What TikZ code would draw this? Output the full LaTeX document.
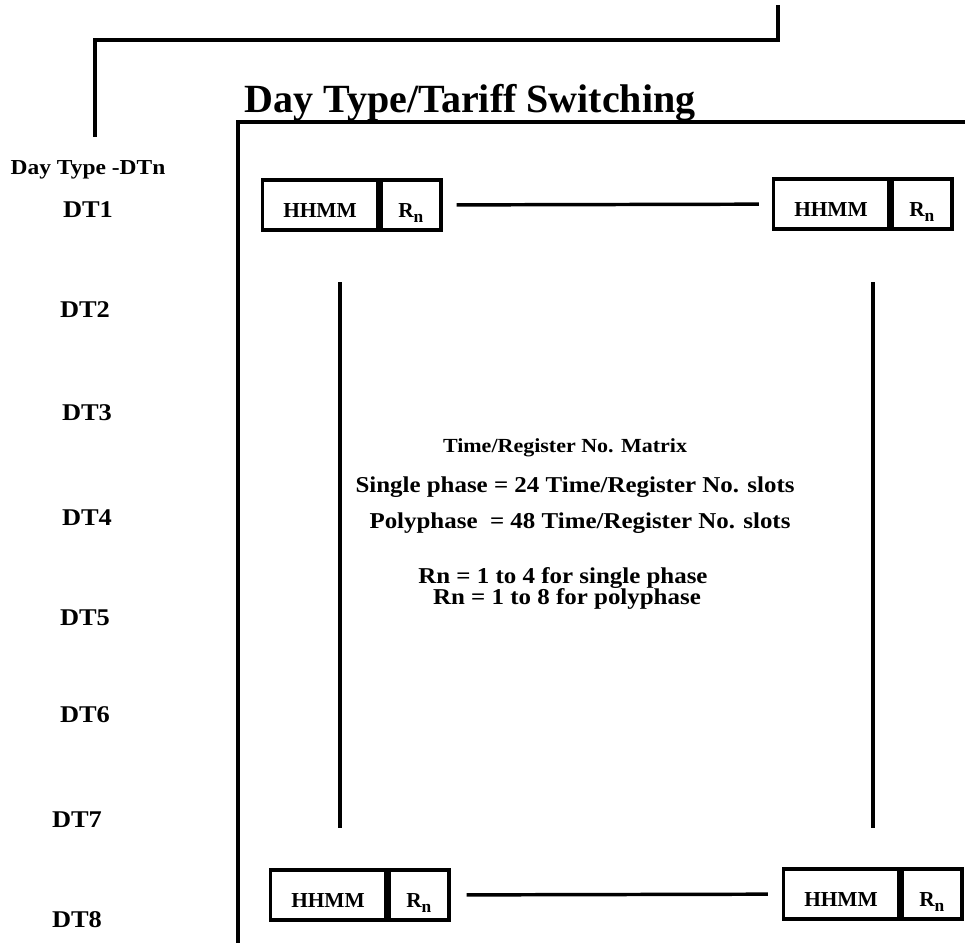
\documentclass[tikz,border=0pt]{standalone}
\usepackage{fontspec}
\setmainfont{Liberation Serif}
\newfontfamily\wideserif{Liberation Serif}[FakeStretch=1.1]
\usepackage{tikz}
\usetikzlibrary{positioning}

\newcommand{\Rn}{R\raisebox{-0.45ex}{\fontsize{13}{13}\selectfont n}}

\tikzset{
  wire/.style={line width=2.6pt},
  lbl/.style={font=\wideserif\fontsize{17}{19}\selectfont\bfseries, inner sep=0pt},
  daylbl/.style={font=\wideserif\fontsize{18}{20}\selectfont\bfseries, inner sep=0pt},
  title/.style={font=\fontsize{30}{34}\selectfont\bfseries, inner sep=0pt, anchor=base},
  hhmm/.style={draw, line width=2.6pt, minimum width=86pt, minimum height=37.5pt,
    inner sep=0pt, text height=19pt, text depth=0pt,
    font=\fontsize{16}{18}\selectfont\bfseries},
  reg/.style={hhmm, minimum width=45pt}
}

\begin{document}
\begin{tikzpicture}[x=0.75pt,y=-0.75pt]
  \useasboundingbox (0,0) rectangle (965,943);

  % Title and outer frame
  \node[title] (title) at (470,112) {Day Type/Tariff Switching};
  \draw[wire] (965,122) -- (238,122) -- (238,943);

  % Feed from above
  \coordinate (feed) at (778,5);
  \coordinate (drop) at (95,137);
  \draw[wire] (feed) -- ++(0,35) -| (drop);

  % Day types
  \node[lbl, font=\wideserif\fontsize{16}{18}\selectfont\bfseries] (dtn) at (88,170) {Day Type -DTn};
  \foreach \i/\x/\y in {1/88/210, 2/85/310, 3/87/413, 4/87/518,
                        5/85/618, 6/85/715, 7/77/820, 8/77/920}
    \node[daylbl] (dt\i) at (\x,\y) {DT\i};

  % Top slots
  \node[hhmm] (tlh) at (320,205) {HHMM};
  \node[reg, right=0pt of tlh] (tlr) {\Rn};
  \node[hhmm] (trh) at (831,204) {HHMM};
  \node[reg, right=0pt of trh] (trr) {\Rn};
  \draw[wire, shorten <=10.5pt, shorten >=9.75pt] (tlr) -- (trh);

  % Bottom slots
  \node[hhmm] (blh) at (328,895) {HHMM};
  \node[reg, right=0pt of blh] (blr) {\Rn};
  \node[hhmm] (brh) at (841,894) {HHMM};
  \node[reg, right=0pt of brh] (brr) {\Rn};
  \draw[wire, shorten <=12pt, shorten >=10.5pt] (blr) -- (brh);

  % Side links
  \coordinate (lt) at (340,282);
  \coordinate (lb) at (340,828);
  \coordinate (rt) at (873,282);
  \coordinate (rb) at (873,828);
  \draw[wire] (lt) -- (lb);
  \draw[wire] (rt) -- (rb);

  % Matrix notes
  \node[lbl, font=\wideserif\fontsize{15}{17}\selectfont\bfseries] (mtx) at (565,448) {Time/Register No. Matrix};
  \node[lbl] (sgl) at (575,487) {Single phase = 24 Time/Register No. slots};
  \node[lbl] (ply) at (580,523) {Polyphase \ = 48 Time/Register No. slots};
  \node[lbl] (rn1) at (563,578) {Rn = 1 to 4 for single phase};
  \node[lbl] (rn2) at (567,599) {Rn = 1 to 8 for polyphase};
\end{tikzpicture}
\end{document}
